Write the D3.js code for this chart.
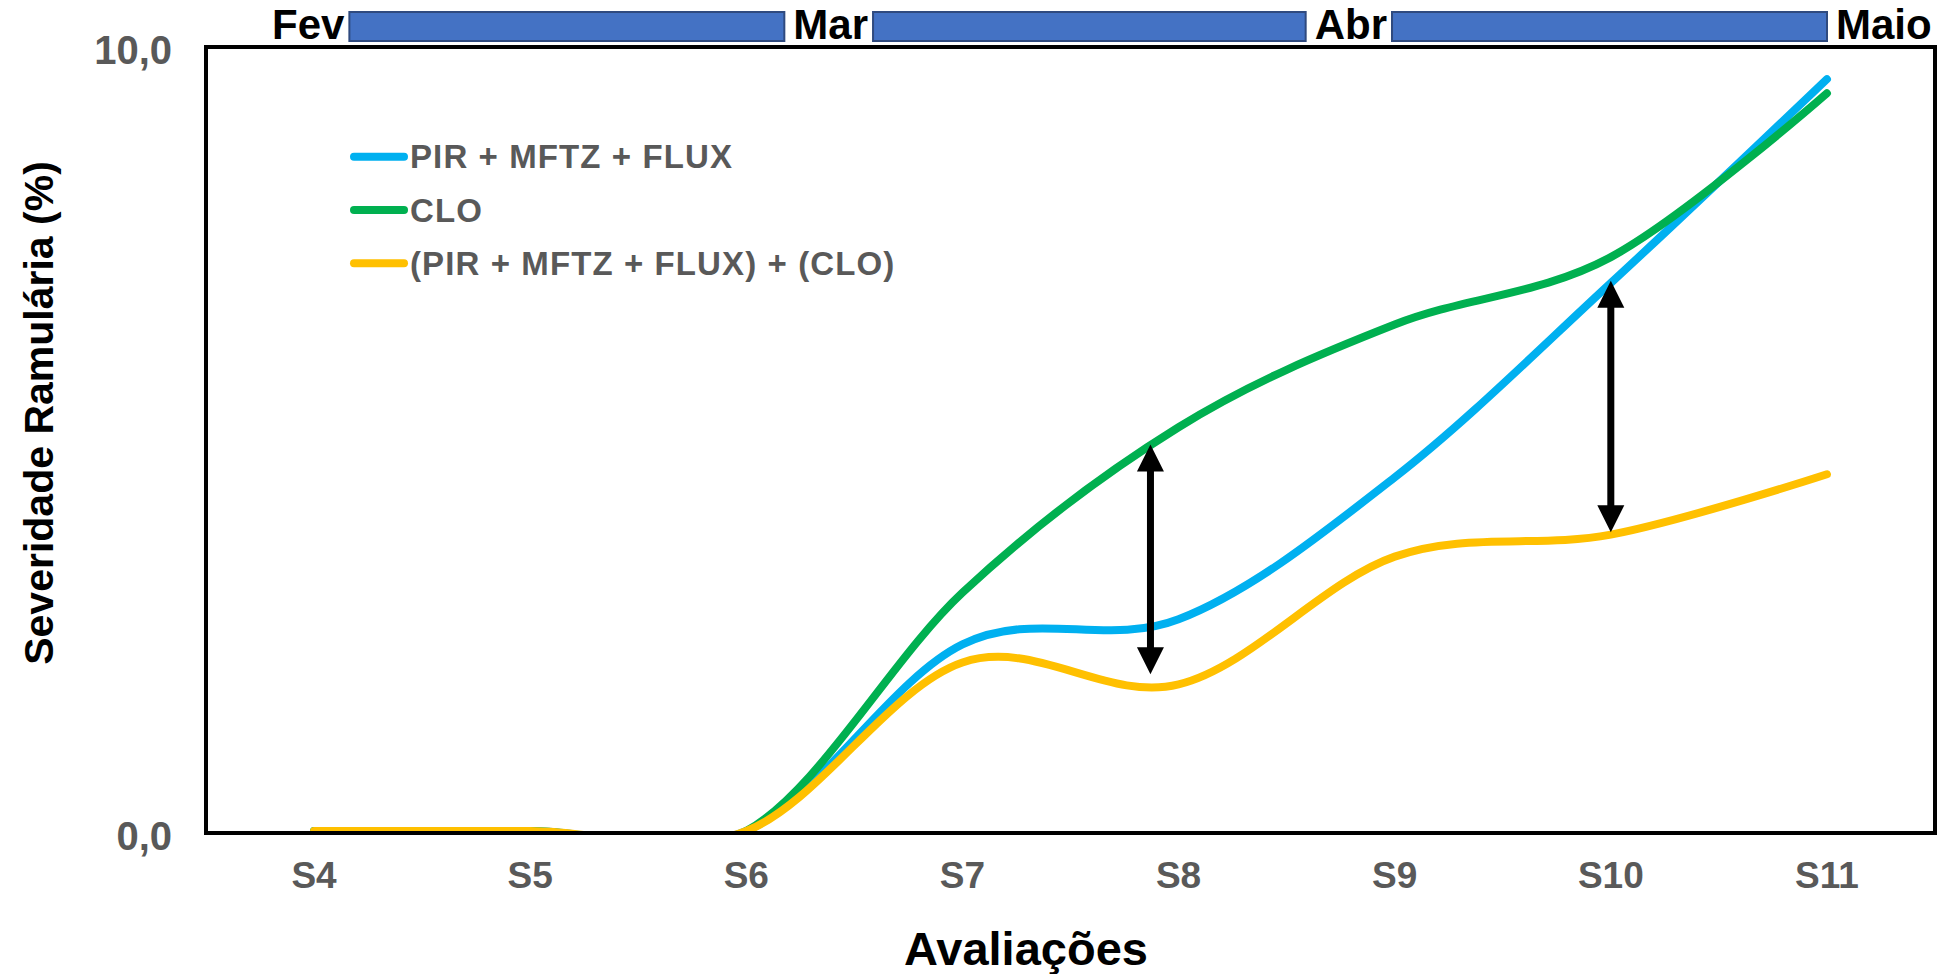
<!DOCTYPE html>
<html>
<head>
<meta charset="utf-8">
<script src="https://cdn.jsdelivr.net/npm/d3@7"></script>
<style>
  html, body { margin: 0; padding: 0; background: #ffffff; }
  svg { display: block; }
  text { font-family: "Liberation Sans", Arial, Helvetica, sans-serif; font-weight: bold; }
</style>
</head>
<body>
<svg id="chart" width="1948" height="974"></svg>
<script>
// ---------------- DATA ----------------
const categories = ["S4", "S5", "S6", "S7", "S8", "S9", "S10", "S11"];
const seriesNames = ["PIR + MFTZ + FLUX", "CLO", "(PIR + MFTZ + FLUX) + (CLO)"];
const seriesColors = ["#00B0F0", "#00B050", "#FFC000"];
const pirValues   = [0, 0, 0, 2.38, 2.70, 4.51, 6.99, 9.59];
const cloValues   = [0, 0, 0, 3.04, 5.15, 6.46, 7.32, 9.41];
const comboValues = [0, 0, 0, 2.15, 1.87, 3.50, 3.78, 4.55];
const yTickValues = [0, 10];
const yTickLabels = ["0,0", "10,0"];
const months = ["Fev", "Mar", "Abr", "Maio"];
const arrowCats    = ["S8", "S10"];
const arrowOffsets = [-0.13, 0];
const arrowTops    = [4.93, 7.02];
const arrowBottoms = [2.00, 3.81];
const xTitle = "Avaliações";
const yTitle = "Severidade Ramulária (%)";

// ---------------- LAYOUT ----------------
const svg = d3.select("#chart");
const plot = { left: 206, right: 1935, top: 47, bottom: 831 };
const axisY = 833;

const x = d3.scalePoint().domain(categories).range([plot.left, plot.right]).padding(0.5);
const y = d3.scaleLinear().domain([0, 10]).range([plot.bottom, plot.top]);
const step = x.step();

// clip for lines
svg.append("defs").append("clipPath").attr("id", "plotClip")
  .append("rect")
  .attr("x", plot.left).attr("y", plot.top - 10)
  .attr("width", plot.right - plot.left).attr("height", axisY - plot.top + 10);

// ---------------- MONTH BAR ----------------
const monthX = d3.scalePoint().domain(months).range([272, 1836]);
const monthG = svg.append("g");
const monthTexts = monthG.selectAll("text").data(months).join("text")
  .attr("x", d => monthX(d))
  .attr("y", 39)
  .attr("font-size", 42)
  .attr("fill", "#000000")
  .text(d => d);
const widths = [];
monthTexts.each(function () { widths.push(this.getComputedTextLength()); });
monthG.selectAll("rect").data(months.slice(0, -1)).join("rect")
  .attr("x", (d, i) => monthX(d) + widths[i] + 5)
  .attr("y", 12)
  .attr("width", (d, i) => monthX(months[i + 1]) - 9 - (monthX(d) + widths[i] + 5))
  .attr("height", 29)
  .attr("fill", "#4472C4")
  .attr("stroke", "#2F4A7F")
  .attr("stroke-width", 2);

// ---------------- LINES ----------------
const line = d3.line()
  .x((d, i) => x(categories[i]))
  .y(d => y(d))
  .curve(d3.curveCatmullRom.alpha(0));

const allSeries = [pirValues, cloValues, comboValues];
const linesG = svg.append("g").attr("clip-path", "url(#plotClip)");
linesG.selectAll("path").data(allSeries).join("path")
  .attr("d", d => line(d))
  .attr("fill", "none")
  .attr("stroke", (d, i) => seriesColors[i])
  .attr("stroke-width", 8)
  .attr("stroke-linecap", "round")
  .attr("stroke-linejoin", "round");

// ---------------- FRAME / AXES ----------------
svg.append("rect")
  .attr("x", plot.left).attr("y", plot.top)
  .attr("width", plot.right - plot.left).attr("height", axisY - plot.top)
  .attr("fill", "none").attr("stroke", "#000").attr("stroke-width", 4);

// y tick labels
svg.append("g").selectAll("text").data(yTickValues).join("text")
  .attr("x", 172)
  .attr("y", (d, i) => (i === 0 ? axisY : y(d)) + 3)
  .attr("text-anchor", "end")
  .attr("dominant-baseline", "central")
  .attr("font-size", 40)
  .attr("fill", "#595959")
  .text((d, i) => yTickLabels[i]);

// x tick labels
svg.append("g").selectAll("text").data(categories).join("text")
  .attr("x", d => x(d))
  .attr("y", 888)
  .attr("text-anchor", "middle")
  .attr("font-size", 37)
  .attr("fill", "#595959")
  .text(d => d);

// axis titles
svg.append("text")
  .attr("x", 1026)
  .attr("y", 965)
  .attr("text-anchor", "middle")
  .attr("font-size", 47)
  .attr("fill", "#000")
  .text(xTitle);

svg.append("text")
  .attr("transform", "translate(53,413) rotate(-90)")
  .attr("text-anchor", "middle")
  .attr("font-size", 41)
  .attr("fill", "#000")
  .text(yTitle);

// ---------------- ARROWS ----------------
const headW = 27, headL = 27, shaftW = 7;
const arrowG = svg.append("g");
arrowCats.forEach((c, i) => {
  const ax = x(c) + arrowOffsets[i] * step;
  const yt = y(arrowTops[i]);
  const yb = y(arrowBottoms[i]);
  arrowG.append("line")
    .attr("x1", ax).attr("x2", ax)
    .attr("y1", yt + headL - 2).attr("y2", yb - headL + 2)
    .attr("stroke", "#000").attr("stroke-width", shaftW);
  arrowG.append("path")
    .attr("d", `M${ax},${yt} L${ax - headW / 2},${yt + headL} L${ax + headW / 2},${yt + headL} Z`)
    .attr("fill", "#000");
  arrowG.append("path")
    .attr("d", `M${ax},${yb} L${ax - headW / 2},${yb - headL} L${ax + headW / 2},${yb - headL} Z`)
    .attr("fill", "#000");
});

// ---------------- LEGEND ----------------
const legendRows = d3.scaleBand().domain(seriesNames).range([133, 293]);
const legendG = svg.append("g");
seriesNames.forEach((name, i) => {
  const cy = legendRows(name) + legendRows.bandwidth() / 2 - 3;
  legendG.append("line")
    .attr("x1", 354).attr("x2", 404)
    .attr("y1", cy).attr("y2", cy)
    .attr("stroke", seriesColors[i]).attr("stroke-width", 8)
    .attr("stroke-linecap", "round");
  legendG.append("text")
    .attr("x", 410).attr("y", cy)
    .attr("dominant-baseline", "central")
    .attr("font-size", 33)
    .attr("letter-spacing", 1.1)
    .attr("fill", "#595959")
    .text(name);
});
</script>
</body>
</html>
